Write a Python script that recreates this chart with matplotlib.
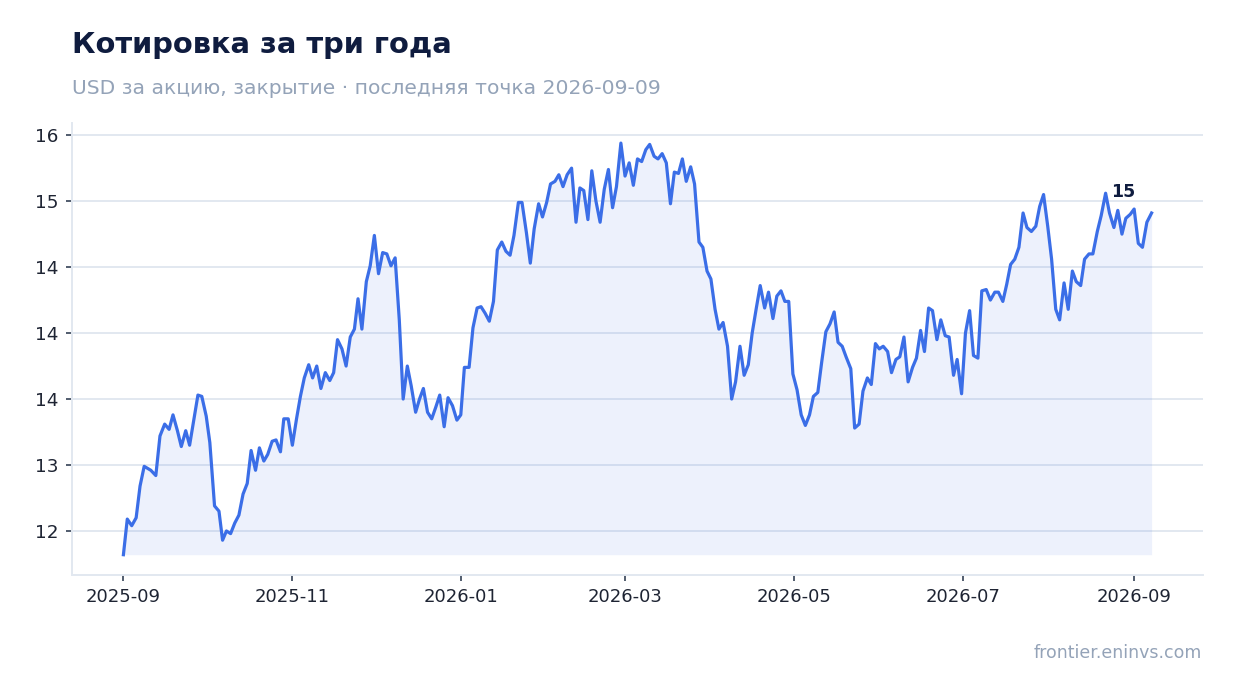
import numpy as np
import pandas as pd
import matplotlib
matplotlib.use('Agg')
import matplotlib.pyplot as plt
import matplotlib.dates as mdates
from matplotlib.ticker import MultipleLocator, StrMethodFormatter

# days after 2025-09-01 and close price (USD)
start_date = '2025-09-01'
days = [0.0, 1.4, 3.0, 4.6, 6.0, 7.5, 9.9, 11.7, 13.2, 14.9, 16.5, 17.9, 19.5, 20.9, 22.5, 23.9,
        25.4, 26.9, 28.3, 29.9, 31.2, 32.9, 34.5, 35.8, 37.2, 38.7, 40.2, 41.7, 43.2, 44.7, 46.1,
        47.7, 49.1, 50.7, 52.1, 53.7, 55.1, 56.7, 57.9, 59.5, 61.0, 62.5, 63.9, 65.3, 66.9, 68.3,
        69.8, 71.3, 72.9, 74.5, 75.9, 77.3, 78.9, 80.4, 81.9, 83.4, 84.7, 86.1, 87.7, 89.1, 90.6,
        92.1, 93.6, 95.1, 96.6, 98.1, 99.6, 101.0, 102.5, 103.9, 105.5, 106.9, 108.3, 109.8, 111.3,
        112.8, 114.2, 115.8, 117.2, 118.8, 120.4, 121.8, 123.1, 124.8, 126.2, 127.7, 129.1, 130.6,
        132.1, 133.6, 135.0, 136.6, 138.1, 139.6, 141.0, 142.6, 143.9, 145.5, 146.9, 148.3, 149.9,
        151.3, 152.8, 154.2, 155.8, 157.2, 158.7, 160.2, 161.8, 163.4, 164.8, 166.2, 167.7, 169.1,
        170.6, 172.1, 173.6, 175.1, 176.6, 178.0, 179.6, 181.1, 182.6, 184.1, 185.6, 187.1, 188.6,
        190.0, 191.6, 193.0, 194.5, 196.0, 197.5, 198.9, 200.4, 201.8, 203.2, 204.8, 206.2, 207.8,
        209.2, 210.7, 212.1, 213.6, 215.0, 216.5, 218.1, 219.6, 221.0, 222.6, 224.1, 225.6, 227.0,
        228.5, 229.9, 231.5, 232.9, 234.5, 235.9, 237.4, 238.8, 240.2, 241.7, 243.2, 244.7, 246.2,
        247.7, 249.1, 250.7, 252.1, 253.6, 255.1, 256.6, 258.0, 259.5, 260.9, 262.6, 264.0, 265.6,
        267.0, 268.6, 270.0, 271.5, 272.9, 274.3, 275.9, 277.3, 278.9, 280.3, 281.8, 283.3, 284.9,
        286.3, 287.8, 289.2, 290.7, 292.1, 293.7, 295.1, 296.7, 298.1, 299.7, 301.0, 302.6, 304.0,
        305.5, 306.9, 308.5, 309.9, 311.5, 313.0, 314.6, 315.9, 317.5, 318.9, 320.3, 321.8, 323.3,
        324.8, 326.2, 327.8, 329.4, 330.8, 332.2, 333.7, 335.1, 336.6, 338.0, 339.6, 341.1, 342.6,
        344.0, 345.6, 347.0, 348.6, 350.0, 351.6, 353.0, 354.6, 356.0, 357.6, 359.0, 360.5, 361.9,
        363.5, 364.9, 366.4, 367.9, 369.5, 371.2]
close = [12.32, 12.59, 12.54, 12.60, 12.84, 12.99, 12.96, 12.92, 13.22, 13.31, 13.27, 13.38, 13.26,
         13.14, 13.26, 13.15, 13.34, 13.53, 13.52, 13.37, 13.17, 12.69, 12.65, 12.43, 12.50, 12.48,
         12.56, 12.62, 12.78, 12.86, 13.11, 12.96, 13.13, 13.03, 13.08, 13.18, 13.19, 13.10, 13.35,
         13.35, 13.15, 13.35, 13.52, 13.66, 13.76, 13.66, 13.75, 13.58, 13.70, 13.64, 13.70, 13.95,
         13.88, 13.75, 13.97, 14.03, 14.26, 14.03, 14.39, 14.51, 14.74, 14.45, 14.61, 14.60, 14.51,
         14.57, 14.10, 13.50, 13.75, 13.60, 13.40, 13.50, 13.58, 13.40, 13.35, 13.44, 13.53, 13.29,
         13.51, 13.45, 13.34, 13.38, 13.74, 13.74, 14.04, 14.19, 14.20, 14.15, 14.09, 14.24, 14.63,
         14.69, 14.62, 14.59, 14.74, 14.99, 14.99, 14.76, 14.53, 14.79, 14.98, 14.88, 14.99, 15.13,
         15.15, 15.20, 15.11, 15.20, 15.25, 14.84, 15.10, 15.08, 14.86, 15.23, 15.00, 14.84, 15.09,
         15.24, 14.95, 15.11, 15.44, 15.19, 15.29, 15.12, 15.32, 15.30, 15.39, 15.43, 15.34, 15.32,
         15.36, 15.29, 14.98, 15.22, 15.21, 15.32, 15.15, 15.26, 15.13, 14.69, 14.65, 14.47, 14.41,
         14.18, 14.03, 14.08, 13.90, 13.50, 13.63, 13.90, 13.68, 13.76, 14.00, 14.19, 14.36, 14.19,
         14.31, 14.11, 14.28, 14.32, 14.24, 14.24, 13.69, 13.57, 13.38, 13.30, 13.38, 13.52, 13.55,
         13.78, 14.01, 14.07, 14.16, 13.93, 13.90, 13.82, 13.73, 13.28, 13.31, 13.56, 13.66, 13.61,
         13.92, 13.88, 13.90, 13.86, 13.70, 13.80, 13.82, 13.97, 13.63, 13.74, 13.81, 14.02, 13.86,
         14.19, 14.17, 13.95, 14.10, 13.98, 13.97, 13.68, 13.80, 13.54, 14.00, 14.17, 13.83, 13.81,
         14.32, 14.33, 14.25, 14.31, 14.31, 14.24, 14.37, 14.52, 14.56, 14.65, 14.91, 14.80, 14.77,
         14.81, 14.96, 15.05, 14.81, 14.56, 14.18, 14.10, 14.38, 14.18, 14.47, 14.39, 14.36, 14.56,
         14.60, 14.60, 14.77, 14.89, 15.06, 14.91, 14.80, 14.93, 14.75, 14.87, 14.90, 14.94, 14.68,
         14.65, 14.84, 14.91]

title = 'Котировка за три года'
subtitle = 'USD за акцию, закрытие · последняя точка 2026-09-09'
source = 'frontier.eninvs.com'

line_color = '#3b6ee7'
navy = '#0f1c3f'
muted = '#94a3b8'
grid_color = '#e2e8f0'

dates = pd.Timestamp(start_date) + pd.to_timedelta(days, unit='D')
close = np.array(close)

fig = plt.figure(figsize=(12.34, 6.93), dpi=100)
ax = fig.add_axes([72 / 1234, 1 - 575.3 / 693, (1203 - 72) / 1234, (575.3 - 122.5) / 693])

ax.fill_between(dates, close, close.min(), color=line_color, alpha=0.09, lw=0)
ax.plot(dates, close, color=line_color, lw=2.3, solid_joinstyle='round')

# label the recent high
recent = np.where(np.array(days) > 340)[0]
i_hi = recent[np.argmax(close[recent])]
ax.annotate('{:.0f}'.format(close[i_hi]), (dates[i_hi], close[i_hi]), xytext=(4, 1),
            textcoords='offset points', ha='left', va='center',
            fontsize=12.5, fontweight='bold', color=navy)

ax.yaxis.set_major_locator(MultipleLocator(0.5))
ax.yaxis.set_major_formatter(StrMethodFormatter('{x:.0f}'))
ax.xaxis.set_major_locator(mdates.MonthLocator(bymonth=[1, 3, 5, 7, 9, 11]))
ax.xaxis.set_major_formatter(mdates.DateFormatter('%Y-%m'))

ax.grid(axis='y', color=grid_color, lw=1.4)
ax.set_axisbelow(True)
for side in ['top', 'right']:
    ax.spines[side].set_visible(False)
for side in ['left', 'bottom']:
    ax.spines[side].set_color(grid_color)
    ax.spines[side].set_linewidth(1.4)
ax.tick_params(axis='y', length=4, width=1.2, color='#334155', pad=6, labelsize=13.2, labelcolor='#1e2433')
ax.tick_params(axis='x', length=4.5, width=1.2, color='#334155', pad=5, labelsize=13, labelcolor='#1e2433')

fig.text(72 / 1234, 1 - 53.3 / 693, title, fontsize=20.8, fontweight='bold', color=navy, va='baseline')
fig.text(72 / 1234, 1 - 94 / 693, subtitle, fontsize=14.6, color=muted, va='baseline')
fig.text(1202 / 1234, 1 - 658 / 693, source, fontsize=12.5, color=muted, ha='right', va='baseline')

fig.savefig('out.png', dpi=100)
